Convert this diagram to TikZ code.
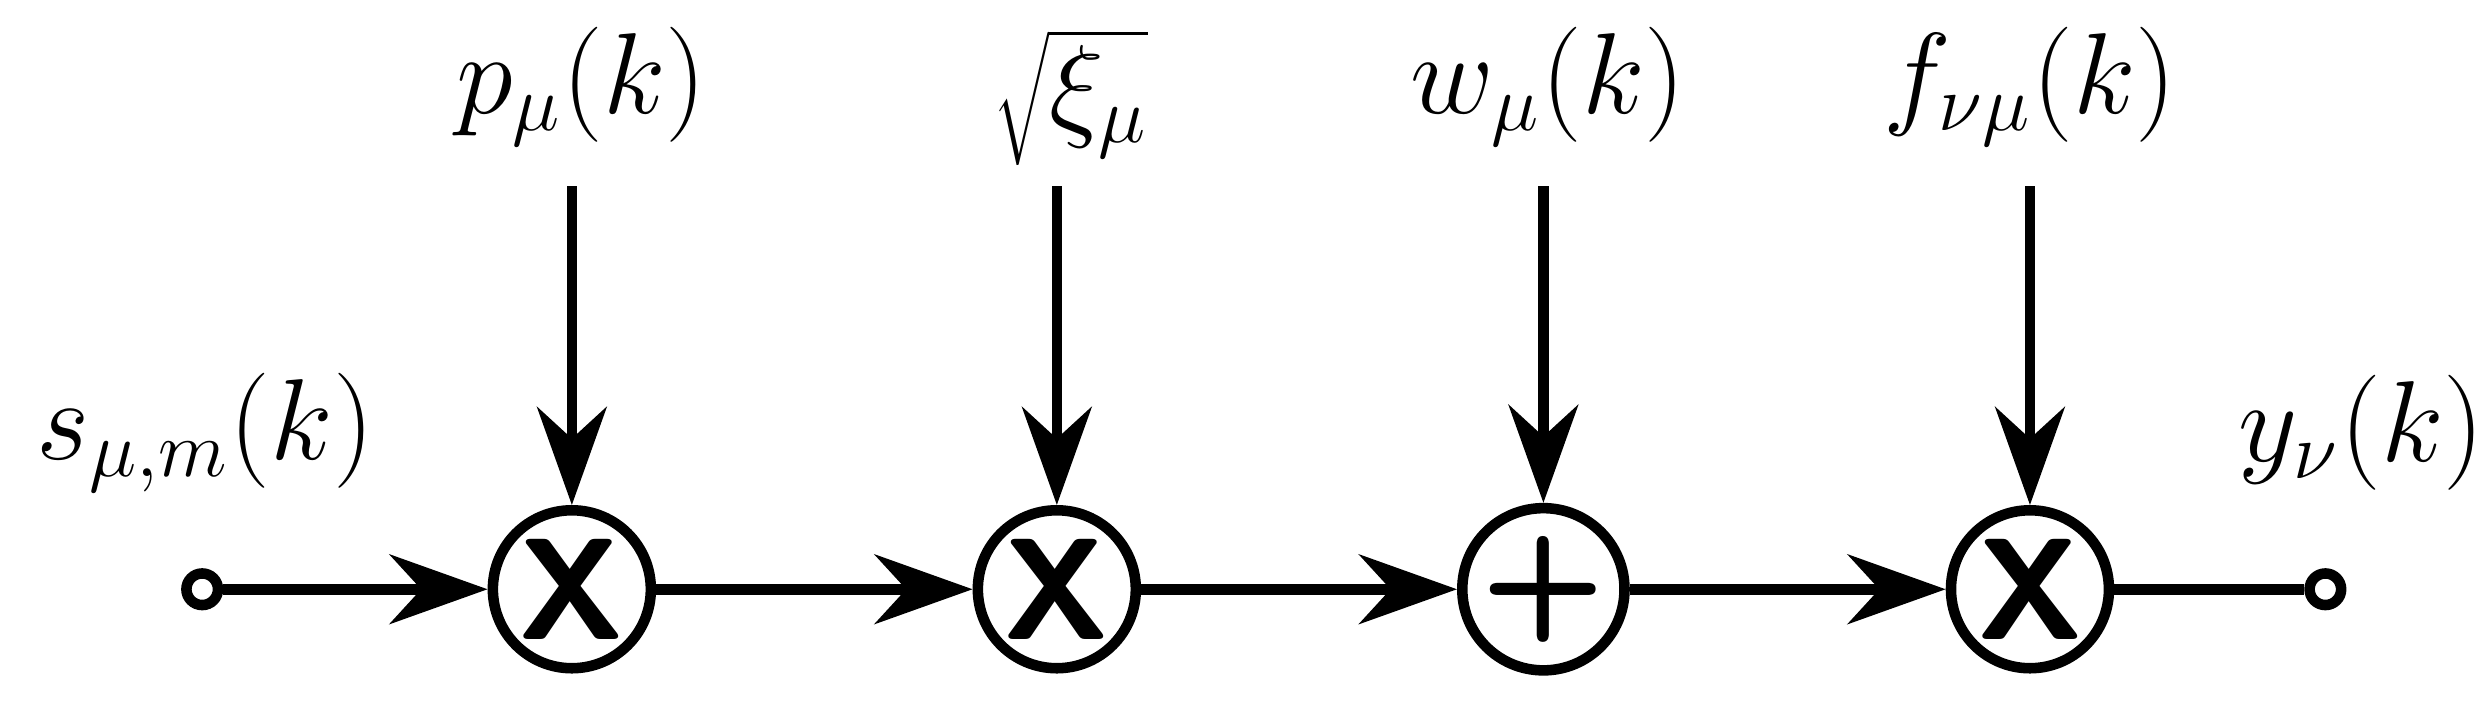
\documentclass[tikz,border=0pt]{standalone}
\usetikzlibrary{arrows.meta}
\tikzstyle{arrow} = [-{Stealth[length=0.62cm,width=0.44cm,inset=0.2cm]}]
\tikzstyle{mCircle}=[circle, draw=black, line width=1.9pt, minimum size=1.0cm, inner sep=0pt, font=\fontsize{26}{30}\selectfont\sffamily\bfseries]
\tikzstyle{tCircle}=[circle, draw=black, fill=white, line width=1.9pt, minimum size=0.2cm, inner sep=0pt]
\tikzstyle{lab}=[font=\fontsize{22}{26}\selectfont]

\begin{document}
\begin{tikzpicture}[line width=1.9pt]
        \useasboundingbox (0,0) rectangle (15.68,4.52);
        \node[tCircle] (m0) at (1.28,0.79) {};
        \node[mCircle] (m1) at (3.62,0.79) {X};
        \node[mCircle] (m2) at (6.69,0.79) {X};
        \node[mCircle] (m3) at (9.77,0.79) {+};
        \node[mCircle] (m4) at (12.85,0.79) {X};
        \node[tCircle] (m5) at (14.72,0.79) {};

        \coordinate (c1) at (3.62,3.34);
        \coordinate (c2) at (6.69,3.34);
        \coordinate (c3) at (9.77,3.34);
        \coordinate (c4) at (12.85,3.34);

        \node[lab] (l1) at (3.68,3.97) {$p_\mu(k)$};
        \node[lab] (l2) at (6.78,3.90) {$\sqrt{\xi_\mu}$};
        \node[lab] (l3) at (9.80,3.97) {$w_\mu(k)$};
        \node[lab] (l4) at (12.85,3.97) {$f_{\nu\mu}(k)$};
        \node[lab] (l0) at (1.30,1.78) {$s_{\mu,m}(k)$};
        \node[lab] (l5) at (14.95,1.78) {$y_\nu(k)$};

        \draw[arrow] (m0) -- (m1);
        \draw[arrow] (m1) -- (m2);
        \draw[arrow] (m2) -- (m3);
        \draw[arrow] (m3) -- (m4);
        \draw (m4) -- (m5);

        \draw[arrow] (c1) -- (m1);
        \draw[arrow] (c2) -- (m2);
        \draw[arrow] (c3) -- (m3);
        \draw[arrow] (c4) -- (m4);
\end{tikzpicture}
\end{document}
